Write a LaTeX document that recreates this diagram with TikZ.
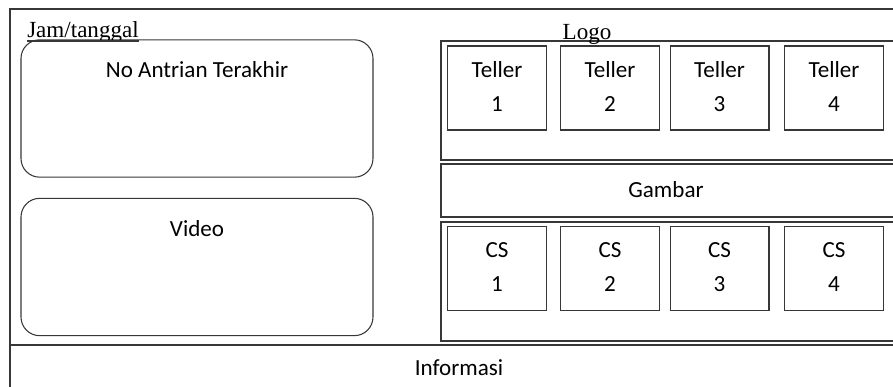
\documentclass[tikz,border=0pt]{standalone}
\usepackage{fontspec}
\setmainfont{Carlito}
\newfontfamily\timesfont{Liberation Serif}
\usepackage{tikz}
\definecolor{linegray}{RGB}{55,55,55}
\newcommand\linestrut{\rule[-4pt]{0pt}{17pt}}
\tikzset{
  panel/.style={draw=linegray, line width=1pt},
  roundbox/.style={draw=linegray, line width=0.8pt, rectangle, rounded corners=14pt, minimum width=264pt, minimum height=103pt},
  counter/.style={draw=linegray, line width=1pt, rectangle, minimum width=74pt, minimum height=63pt, align=center, font=\fontsize{17.3}{25.5}\selectfont},
  txt/.style={font=\fontsize{17.3}{20}\selectfont, inner sep=0pt},
}

\begin{document}
\begin{tikzpicture}[x=0.75pt, y=-0.75pt]
\useasboundingbox (0,0) rectangle (893,386);
\clip (0,0) rectangle (893,386);
% frame and panels
\draw[panel] (10,9) rectangle (905,400);
\draw[panel] (10,345) -- (905,345);
\draw[panel] (441,41) rectangle (905,160);
\draw[panel] (441,164) rectangle (905,217);
\draw[panel] (441,222) rectangle (905,341);
% left side
\node[roundbox] (antrian) at (197,108.5) {};
\node[roundbox] (video) at (197,267) {};
\node[txt] (antrianlbl) at (197,70) {No Antrian Terakhir};
\node[txt] (videolbl) at (197,229) {Video};
\node[txt, font=\fontsize{17.3}{20}\selectfont\timesfont, anchor=base west] (jam) at (27,37) {Jam/tanggal};
\draw[linegray, line width=0.8pt] ([yshift=-3pt] jam.base west) -- ([yshift=-3pt] jam.base east);
\node[txt, font=\fontsize{17.3}{20}\selectfont\timesfont, anchor=base] (logo) at (587,39) {Logo};
% counters
\foreach \i/\x in {1/497,2/610,3/719.5,4/834} {
  \node[counter] (teller\i) at (\x,88) {\linestrut Teller\\\linestrut\i};
  \node[counter] (cs\i) at (\x,268.5) {\linestrut CS\\\linestrut\i};
}
\node[txt] (gambar) at (666,190) {Gambar};
\node[txt] (info) at (459,368) {Informasi};
\end{tikzpicture}
\end{document}
